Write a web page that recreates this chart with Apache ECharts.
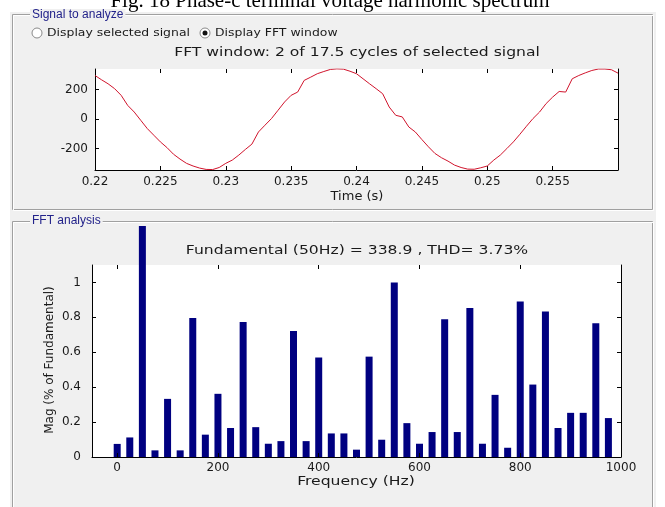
<!DOCTYPE html>
<html><head><meta charset="utf-8">
<script src="https://cdn.jsdelivr.net/npm/echarts@6/dist/echarts.min.js"></script>
<style>html,body{margin:0;padding:0;background:#fff}#c{width:665px;height:507px}</style>
</head><body><div id="c"></div>
<script>
// ---- Data ----
const signalTime = [0.2200,0.2205,0.2210,0.2215,0.2220,0.2225,0.2230,0.2235,0.2240,0.2245,
  0.2250,0.2255,0.2260,0.2265,0.2270,0.2275,0.2280,0.2285,0.2290,0.2295,
  0.2300,0.2305,0.2310,0.2315,0.2320,0.2325,0.2330,0.2335,0.2340,0.2345,
  0.2350,0.2355,0.2360,0.2365,0.2370,0.2375,0.2380,0.2385,0.2390,0.2395,
  0.2400,0.2405,0.2410,0.2415,0.2420,0.2425,0.2430,0.2435,0.2440,0.2445,
  0.2450,0.2455,0.2460,0.2465,0.2470,0.2475,0.2480,0.2485,0.2490,0.2495,
  0.2500,0.2505,0.2510,0.2515,0.2520,0.2525,0.2530,0.2535,0.2540,0.2545,
  0.2550,0.2555,0.2560,0.2565,0.2570,0.2575,0.2580,0.2585,0.2590,0.2595,0.2600];
const signalVolts = [294,265,238,205,160,92,47,-9,-65,-110,
  -155,-193,-238,-271,-300,-318,-332,-341,-342,-328,
  -300,-278,-244,-206,-170,-88,-42,3,59,115,
  160,182,261,283,306,321,335,339,337,323,
  306,272,238,205,171,81,25,14,-54,-88,
  -139,-188,-233,-262,-285,-312,-328,-339,-340,-330,
  -318,-278,-244,-200,-155,-103,-49,3,47,104,
  148,186,182,272,294,312,328,338,338,333,310];
const timeTicks = [0.22,0.225,0.23,0.235,0.24,0.245,0.25,0.255];
const voltTicks = [-200,0,200];

const freqHz = [0,25,50,75,100,125,150,175,200,225,250,275,300,325,350,375,400,425,450,475,
  500,525,550,575,600,625,650,675,700,725,750,775,800,825,850,875,900,925,950,975];
const magPct = [0.075,0.112,100,0.038,0.333,0.038,0.796,0.128,0.362,0.166,0.773,0.171,0.076,0.091,0.722,0.091,0.570,0.135,0.135,0.042,
  0.575,0.099,1.000,0.194,0.076,0.143,0.789,0.143,0.853,0.076,0.356,0.053,0.891,0.415,0.834,0.166,0.253,0.253,0.766,0.223];
const freqTicks = [0,200,400,600,800,1000];
const magTicks = [0,0.2,0.4,0.6,0.8,1];

const captionText = 'Fig. 18 Phase-c terminal voltage harmonic spectrum';
const panel1Label = 'Signal to analyze';
const radio1Label = 'Display selected signal';
const radio2Label = 'Display FFT window';
const plot1Title = 'FFT window: 2 of 17.5 cycles of selected signal';
const plot1XName = 'Time (s)';
const panel2Label = 'FFT analysis';
const plot2Title = 'Fundamental (50Hz) = 338.9 , THD= 3.73%';
const plot2XName = 'Frequency (Hz)';
const plot2YName = 'Mag (% of Fundamental)';

// ---- styling ----
const FIG = '#f0f0f0';
const TXT = '#1a1a1a';
const LBL = '#22228a';
const FONT = '"DejaVu Sans", Arial, sans-serif';

function fmtNum(v){ return String(+(+v).toFixed(4)); }

const chart = echarts.init(document.getElementById('c'), null, {renderer:'canvas'});

const tickStyle = {show:true, inside:true, length:4, lineStyle:{color:'#000', width:1}};
const lineStyle = {show:true, onZero:false, lineStyle:{color:'#000', width:1}};
const noLine = {show:false, onZero:false};
const labelStyle = {color:TXT, fontFamily:FONT, fontSize:12};

function txt(x, y, text, size, scaleX, extra){
  return Object.assign({type:'text', z:9, silent:true, x:x, y:y, scaleX:scaleX,
    style:Object.assign({x:0, y:0, text:text, textAlign:'center', textVerticalAlign:'middle',
      font:size+'px '+FONT, fill:TXT}, extra||{})});
}

const option = {
  backgroundColor:'#ffffff',
  animation:false,
  grid:[
    {left:95, right:47, top:69, bottom:337, show:true, backgroundColor:'#ffffff', borderWidth:0, z:6},
    {left:92, right:44, top:265, bottom:50, show:true, backgroundColor:'#ffffff', borderWidth:0, z:2}
  ],
  xAxis:[
    {gridIndex:0, type:'value', min:0.22, max:0.26, position:'bottom', z:7,
      axisLine:lineStyle, axisTick:Object.assign({customValues:timeTicks}, tickStyle),
      axisLabel:Object.assign({customValues:timeTicks, margin:6, formatter:fmtNum}, labelStyle),
      splitLine:{show:false}},
    {gridIndex:0, type:'value', min:0.22, max:0.26, position:'top', z:7,
      axisLine:noLine, axisTick:Object.assign({customValues:timeTicks}, tickStyle),
      axisLabel:{show:false}, splitLine:{show:false}},
    {gridIndex:1, type:'value', min:-50, max:1000, position:'bottom', z:3,
      axisLine:lineStyle, axisTick:Object.assign({customValues:freqTicks}, tickStyle),
      axisLabel:Object.assign({customValues:freqTicks, margin:5, formatter:fmtNum}, labelStyle),
      splitLine:{show:false}},
    {gridIndex:1, type:'value', min:-50, max:1000, position:'top', z:3,
      axisLine:noLine, axisTick:Object.assign({customValues:freqTicks}, tickStyle),
      axisLabel:{show:false}, splitLine:{show:false}}
  ],
  yAxis:[
    {gridIndex:0, type:'value', min:-345, max:338, position:'left', z:7,
      axisLine:lineStyle, axisTick:Object.assign({customValues:voltTicks}, tickStyle),
      axisLabel:Object.assign({customValues:voltTicks, margin:7, formatter:fmtNum}, labelStyle),
      splitLine:{show:false}},
    {gridIndex:0, type:'value', min:-345, max:338, position:'right', z:7,
      axisLine:lineStyle, axisTick:Object.assign({customValues:voltTicks}, tickStyle),
      axisLabel:{show:false}, splitLine:{show:false}},
    {gridIndex:1, type:'value', min:0, max:1.1, position:'left', z:3,
      axisLine:lineStyle, axisTick:Object.assign({customValues:magTicks}, tickStyle),
      axisLabel:Object.assign({customValues:magTicks, margin:11, formatter:fmtNum}, labelStyle),
      splitLine:{show:false}},
    {gridIndex:1, type:'value', min:0, max:1.1, position:'right', z:3,
      axisLine:lineStyle, axisTick:Object.assign({customValues:magTicks}, tickStyle),
      axisLabel:{show:false}, splitLine:{show:false}}
  ],
  series:[
    {type:'bar', xAxisIndex:2, yAxisIndex:2, z:3, clip:false, barWidth:7,
      itemStyle:{color:'#000080'},
      data: freqHz.map((f,i)=>[f, magPct[i]])},
    {type:'line', xAxisIndex:0, yAxisIndex:0, z:8, showSymbol:false, symbol:'none',
      lineStyle:{color:'#d0142c', width:1},
      data: signalTime.map((t,i)=>[t, signalVolts[i]])}
  ],
  graphic:[
    // figure background
    {type:'rect', z:0, silent:true, shape:{x:10, y:12, width:646, height:500}, style:{fill:FIG}},
    // background above the lower panel (hides bar overflow)
    {type:'rect', z:5, silent:true, shape:{x:0, y:0, width:665, height:12}, style:{fill:'#ffffff'}},
    {type:'rect', z:5, silent:true, shape:{x:10, y:12, width:646, height:214}, style:{fill:FIG}},
    // panel borders (etched)
    {type:'rect', z:6, silent:true, shape:{x:12.5, y:14.5, width:640, height:195}, style:{fill:null, stroke:'#a0a0a0', lineWidth:1}},
    {type:'rect', z:6, silent:true, shape:{x:13.5, y:15.5, width:640, height:195}, style:{fill:null, stroke:'#ffffff', lineWidth:1}},
    {type:'rect', z:6, silent:true, shape:{x:12.5, y:221.5, width:640, height:300}, style:{fill:null, stroke:'#a0a0a0', lineWidth:1}},
    {type:'rect', z:6, silent:true, shape:{x:13.5, y:222.5, width:640, height:300}, style:{fill:null, stroke:'#ffffff', lineWidth:1}},
    // caption (clipped at top)
    {type:'text', z:9, silent:true, style:{x:330, y:12, text:captionText, textAlign:'center', textVerticalAlign:'bottom',
      font:'21px "Liberation Serif", "Times New Roman", serif', fill:'#000'}},
    // panel labels
    txt(30, 15, panel1Label, 12, 1.0, {textAlign:'left', fill:LBL, backgroundColor:FIG, padding:[0,2,0,2], font:'12px Arial, "Liberation Sans", sans-serif'}),
    txt(30, 221, panel2Label, 12, 1.0, {textAlign:'left', fill:LBL, backgroundColor:FIG, padding:[0,2,0,2], font:'12px Arial, "Liberation Sans", sans-serif'}),
    // radio buttons
    {type:'circle', z:9, silent:true, shape:{cx:37, cy:33, r:5}, style:{fill:'#ffffff', stroke:'#8a8a8a', lineWidth:1}},
    txt(47, 33, radio1Label, 11, 1.13, {textAlign:'left'}),
    {type:'circle', z:9, silent:true, shape:{cx:205, cy:33, r:5}, style:{fill:'#ffffff', stroke:'#8a8a8a', lineWidth:1}},
    {type:'circle', z:10, silent:true, shape:{cx:205, cy:33, r:2.5}, style:{fill:'#111111'}},
    txt(215, 33, radio2Label, 11, 1.13, {textAlign:'left'}),
    // axes titles and names
    txt(357, 53, plot1Title, 13, 1.2),
    txt(357, 197, plot1XName, 13, 1.0),
    txt(357, 251, plot2Title, 13, 1.2),
    txt(356, 482, plot2XName, 13, 1.2),
    Object.assign(txt(50, 360, plot2YName, 12, 1.0), {rotation:Math.PI/2})
  ]
};
chart.setOption(option);
</script>
</body></html>
